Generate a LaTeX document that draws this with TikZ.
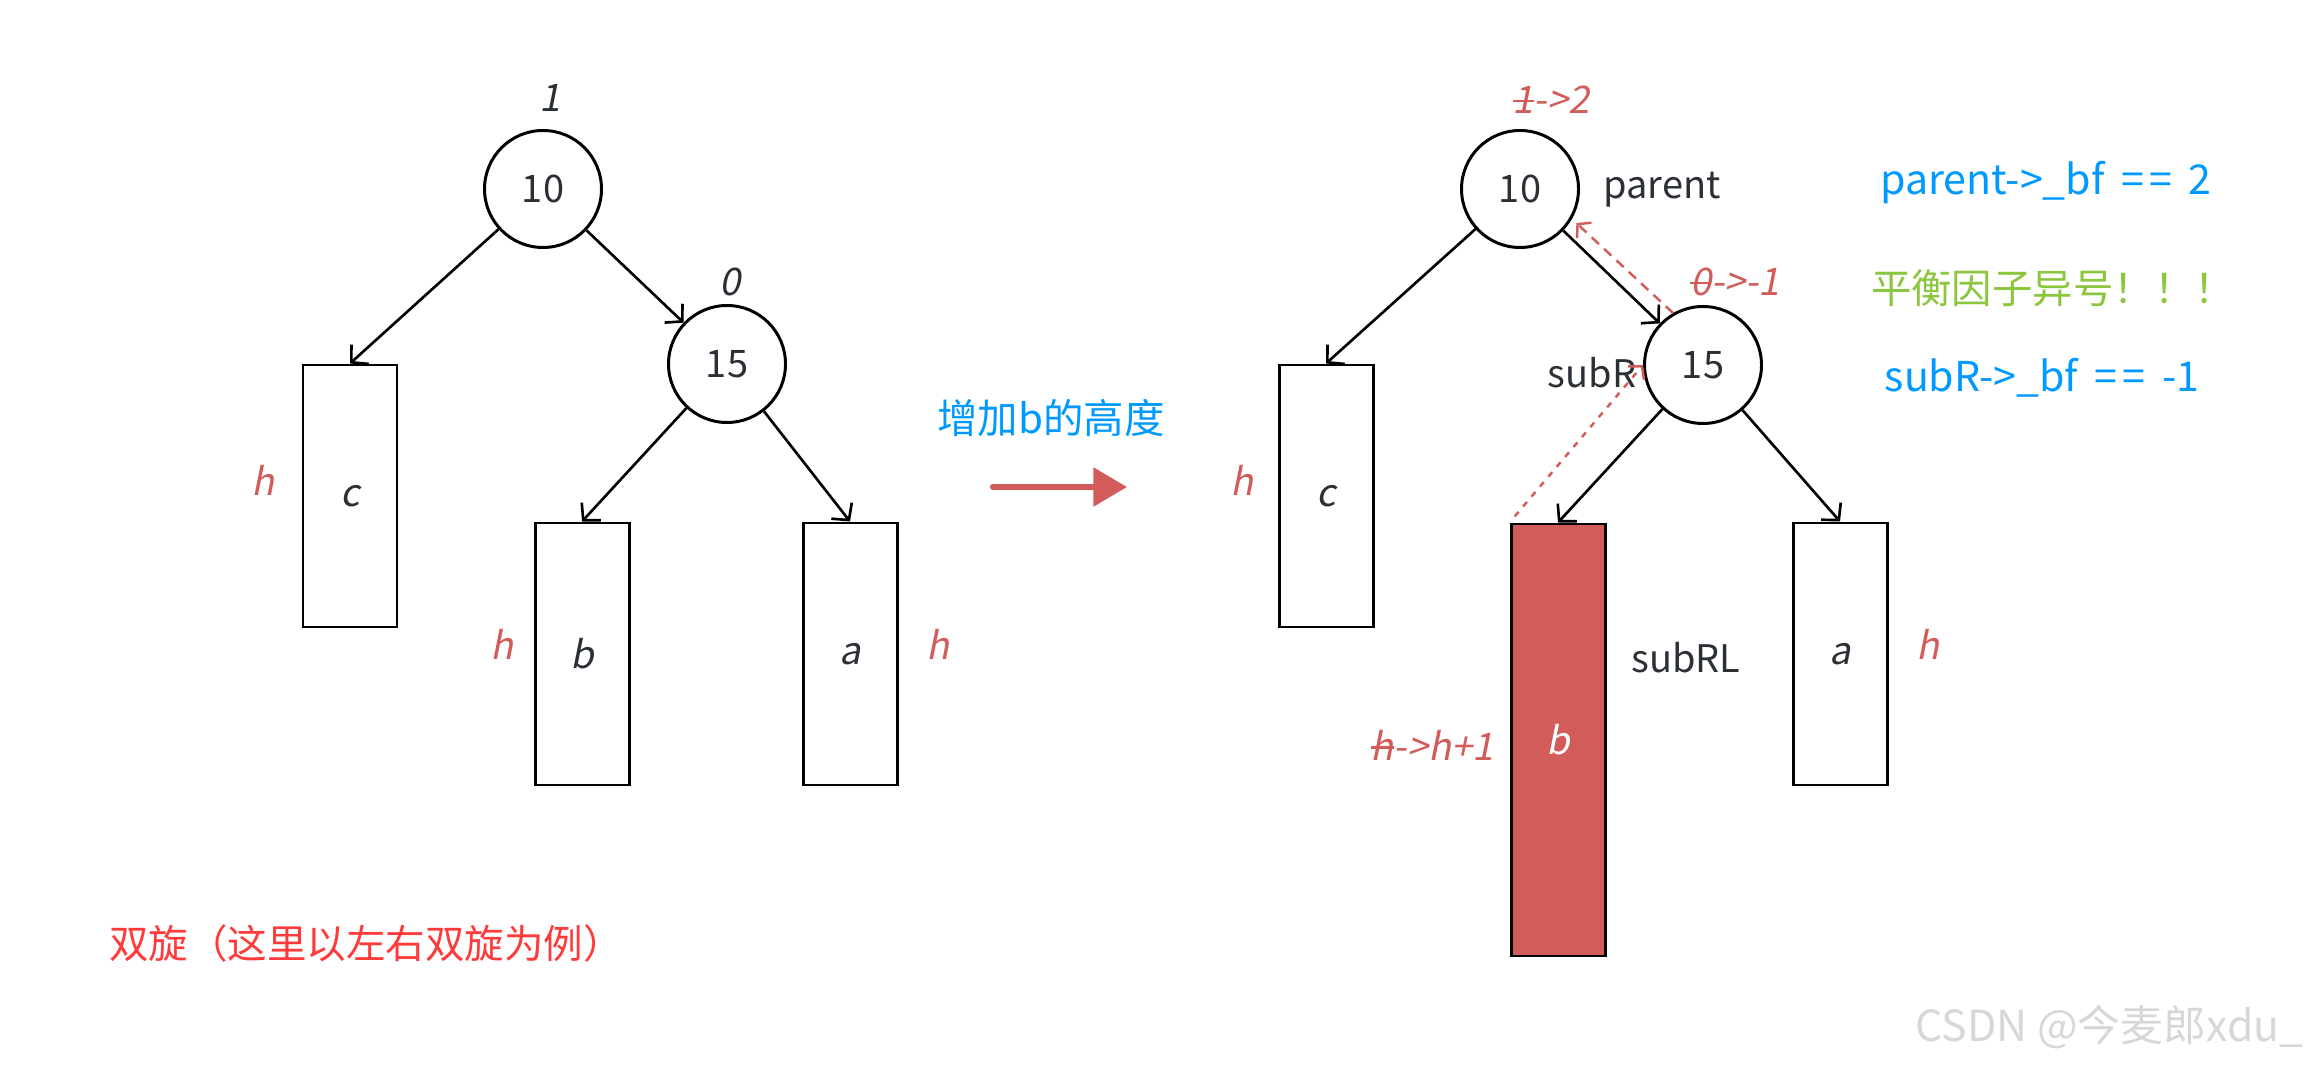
\documentclass[tikz,border=0pt]{standalone}
\usepackage{fontspec}
\setmainfont{Noto Sans CJK SC}
\newfontfamily\slfont[FakeSlant=0.2]{Noto Sans CJK SC}
\usetikzlibrary{arrows.meta}
\definecolor{inkgray}{RGB}{43,47,54}
\definecolor{hred}{RGB}{210,92,90}
\definecolor{bfblue}{RGB}{0,153,255}
\definecolor{signgreen}{RGB}{140,198,63}
\definecolor{titlered}{RGB}{255,58,58}
\definecolor{wmgray}{RGB}{215,215,215}
\newcommand\struck[1]{{\setbox0\hbox{#1}\rlap{\rule[0.3em]{\wd0}{0.06em}}\box0}}
\newcommand\eqeq{\hspace{0.4em}=\kern0.14em=\hspace{0.4em}}
\begin{document}
\begin{tikzpicture}[
  x=0.1mm,y=-0.1mm,
  every node/.style={font=\fontsize{10.8}{13}\selectfont,text=inkgray},
  keynode/.style={draw=black,line width=0.85pt,circle,minimum size=11.7mm,inner sep=0pt},
  subtree/.style={draw=black,line width=0.85pt,minimum width=9.4mm,inner sep=0pt,
    font=\slfont\fontsize{10.8}{13}\selectfont},
  link/.style={-{Straight Barb[length=3.4pt,width=7.4pt]},line width=0.75pt},
  lbl/.style={font=\slfont\fontsize{10.8}{13}\selectfont},
  hlbl/.style={lbl,text=hred},
  sidenote/.style={font=\fontsize{11.7}{14}\selectfont,text=bfblue},
  cjknote/.style={font=\fontsize{11.5}{14}\selectfont},
  tracearrow/.style={draw=hred,line width=0.7pt,-{Straight Barb[length=2.6pt,width=6pt]}},
  growarrow/.style={draw=hred,line width=1.8pt,line cap=round,
    -{Triangle[length=9.6pt,width=10.8pt]}}]
  \useasboundingbox (0,0) rectangle (2310,1068);

  % before: b has height h
  \node[keynode] (l10) at (543,189) {10};
  \node[lbl] (l10bf) at (550,98) {1};
  \node[keynode] (l15) at (727,364) {15};
  \node[lbl] (l15bf) at (730,282) {0};
  \node[subtree,minimum height=26.2mm] (lc) at (350,496) {c};
  \node[subtree,minimum height=26.2mm] (lb) at (582,654) {b};
  \node[subtree,minimum height=26.2mm] (la) at (850,654) {a};
  \node[hlbl] (lch) at (263,480) {h};
  \node[hlbl] (lbh) at (502,644) {h};
  \node[hlbl] (lah) at (938,644) {h};
  \draw[link] (l10) -- (lc.north);
  \draw[link] (l10) -- (l15);
  \draw[link] (l15) -- (lb.north);
  \draw[link] (l15) -- (la.north);

  \node[cjknote,text=bfblue] (growtext) at (1051,418) {增加b的高度};
  \coordinate (g1) at (993,487);
  \coordinate (g2) at (1127,487);
  \draw[growarrow] (g1) -- (g2);

  % after: b has height h+1
  \node[keynode] (r10) at (1520,189) {10};
  \node[lbl,text=hred] (r10bf) at (1551,100) {\struck{1}->2};
  \node (parent) at (1662,190) {parent};
  \node[keynode] (r15) at (1703,365) {15};
  \node[lbl,text=hred] (r15bf) at (1735,282) {\struck{0}->-1};
  \node (subR) at (1592,373) {subR};
  \node[subtree,minimum height=26.2mm] (rc) at (1326,496) {c};
  \node[subtree,minimum height=43.2mm,fill=hred,text=white] (rb) at (1558,740) {b};
  \node[subtree,minimum height=26.2mm] (ra) at (1840,654) {a};
  \node[hlbl] (rch) at (1242,480) {h};
  \node[hlbl] (rbh) at (1432,745) {\struck{h}->h+1};
  \node[hlbl] (rah) at (1928,644) {h};
  \node (subRL) at (1686,658) {subRL};
  \draw[link] (r10) -- (rc.north);
  \draw[link] (r10) -- (r15);
  \draw[link] (r15) -- (rb.north);
  \draw[link] (r15) -- (ra.north);
  \draw[tracearrow,dash pattern=on 2.8pt off 2pt,shorten >=0.6mm] (r15.120) -- (r10.-30);
  \draw[tracearrow,dash pattern=on 1.7pt off 2pt,shorten <=0.8mm] (rb.north west) -- (r15.west);

  \node[sidenote] (bf1) at (2046,183) {parent->\_bf\eqeq2};
  \node[cjknote,text=signgreen] (sign) at (2053,288) {平衡因子异号！！！};
  \node[sidenote] (bf2) at (2042,378) {subR->\_bf\eqeq-1};

  \node[cjknote,text=titlered,font=\fontsize{11.25}{14}\selectfont] (title) at (366,943)
    {双旋（这里以左右双旋为例）};
  \node[anchor=west,text=wmgray,font=\fontsize{12.2}{14}\selectfont] (wm) at (1903,1027)
    {CSDN @今麦郎xdu\_};
\end{tikzpicture}
\end{document}
